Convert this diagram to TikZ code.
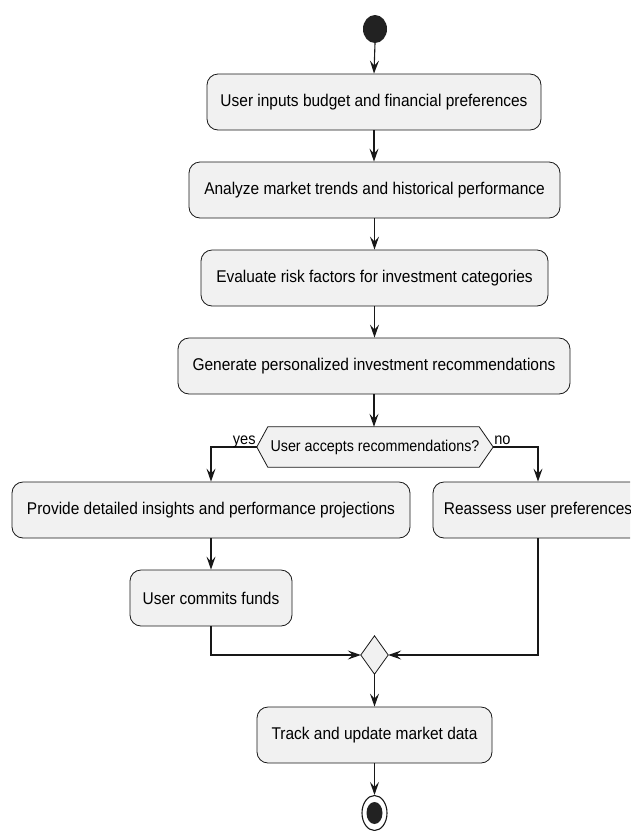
\documentclass[tikz,border=0pt]{standalone}
\usepackage{fontspec}
\setmainfont{Liberation Sans}[FakeStretch=0.91]
\usetikzlibrary{arrows.meta,shapes.geometric,backgrounds}
\definecolor{boxfill}{HTML}{F1F1F1}
\definecolor{lineclr}{HTML}{181818}
\definecolor{dotclr}{HTML}{222222}
\tikzset{
  actbox/.style={draw=lineclr, line width=0.8pt, fill=boxfill, rounded corners=11pt,
    minimum height=56pt, inner sep=0pt, font=\fontsize{17}{20}\selectfont, text=black},
  flow/.style={draw=lineclr, line width=1.1pt, -{Stealth[length=13pt,width=9pt,inset=5pt]}},
  lbl/.style={font=\fontsize{16}{18}\selectfont, inner sep=0pt, text=black},
}
\begin{document}
\begin{tikzpicture}[x=1pt,y=-1pt]
\useasboundingbox (0,0) rectangle (630,831);
\clip (0,0) rectangle (630,831);

\node[ellipse, fill=dotclr, minimum width=24pt, minimum height=28pt, inner sep=0pt] (start) at (375,29) {};

\node[actbox, minimum width=334pt] (b1) at (374,102) {User inputs budget and financial preferences};
\node[actbox, minimum width=371pt] (b2) at (374.5,190) {Analyze market trends and historical performance};
\node[actbox, minimum width=347pt] (b3) at (374.5,278) {Evaluate risk factors for investment categories};
\node[actbox, minimum width=392pt] (b4) at (374,366) {Generate personalized investment recommendations};

\node[minimum width=236pt, minimum height=40pt, inner sep=0pt, font=\fontsize{15.7}{18}\selectfont] (hex) at (375,447) {User accepts recommendations?};
\begin{pgfonlayer}{background}
\path[draw=lineclr, line width=0.8pt, fill=boxfill] (hex.west) -- ([xshift=11pt]hex.north west) -- ([xshift=-14pt]hex.north east) -- (hex.east) -- ([xshift=-14pt]hex.south east) -- ([xshift=11pt]hex.south west) -- cycle;
\end{pgfonlayer}

\node[actbox, minimum width=398pt] (p1) at (211,510) {Provide detailed insights and performance projections};
\node[actbox, minimum width=210pt] (r1) at (538,510) {Reassess user preferences};
\node[actbox, minimum width=162pt] (c1) at (211,598) {User commits funds};

\node[minimum width=27pt, minimum height=38pt, inner sep=0pt] (m) at (374.5,655) {};
\path[draw=lineclr, line width=0.8pt, fill=boxfill] (m.north) -- (m.east) -- (m.south) -- (m.west) -- cycle;

\node[actbox, minimum width=235pt] (t1) at (374.5,735) {Track and update market data};

\node[ellipse, draw=lineclr, line width=1.1pt, fill=white, minimum width=25pt, minimum height=35pt, inner sep=0pt] (end) at (374.5,813) {};
\node[ellipse, fill=dotclr, minimum width=16pt, minimum height=22pt, inner sep=0pt] (endin) at (end.center) {};

\draw[flow] (start.south) -- (b1.north);
\draw[flow] (b1.south) -- (b2.north -| b1.south);
\draw[flow] (b2.south) -- (b3.north);
\draw[flow] (b3.south) -- (b4.north -| b3.south);
\draw[flow] (b4.south) -- (hex.north -| b4.south);
\draw[flow] (hex.west) -| (p1.north);
\draw[flow] (hex.east) -| (r1.north);
\node[lbl, anchor=base east] (yes) at ([xshift=-1pt,yshift=3pt]hex.west) {yes};
\node[lbl, anchor=base west] (no) at ([xshift=1pt,yshift=3pt]hex.east) {no};
\draw[flow] (p1.south) -- (c1.north);
\draw[flow] (c1.south) |- (m.west);
\draw[flow] (r1.south) |- (m.east);
\draw[flow] (m.south) -- (t1.north);
\draw[flow] (t1.south) -- (end.north);
\end{tikzpicture}
\end{document}
